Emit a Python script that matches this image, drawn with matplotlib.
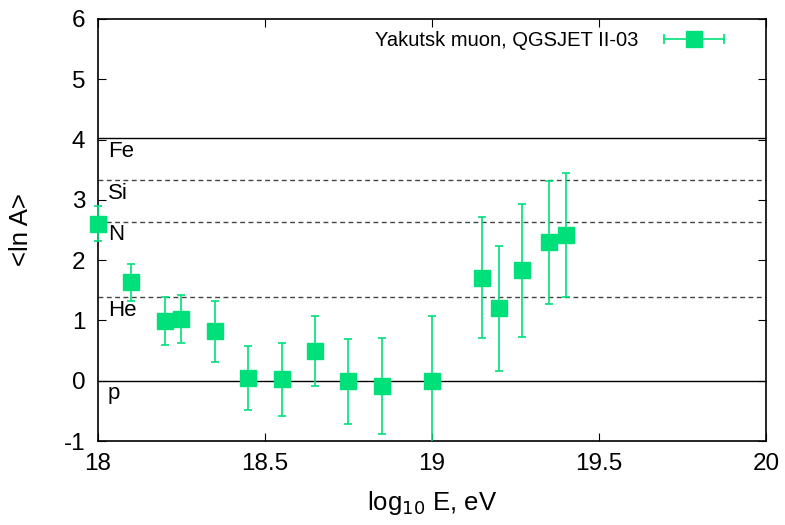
import numpy as np
import matplotlib
matplotlib.use('Agg')
from matplotlib import pyplot as plt
from matplotlib.lines import Line2D
from matplotlib.legend_handler import HandlerLine2D, HandlerTuple
from matplotlib.transforms import Bbox, TransformedBbox

plt.rcParams['font.family'] = ['Liberation Sans', 'DejaVu Sans']
plt.rcParams['axes.unicode_minus'] = False

# Yakutsk muon data, <ln A> vs energy
log_e = [18.0, 18.1, 18.2, 18.25, 18.35, 18.45, 18.55, 18.65, 18.75, 18.85,
         19.0, 19.15, 19.2, 19.27, 19.35, 19.4]
ln_a = [2.60, 1.63, 0.99, 1.02, 0.82, 0.04, 0.02, 0.50, -0.01, -0.09,
        -0.01, 1.71, 1.20, 1.83, 2.30, 2.41]
ln_a_err = [0.29, 0.30, 0.40, 0.40, 0.51, 0.53, 0.60, 0.58, 0.70, 0.79,
            1.08, 1.00, 1.04, 1.10, 1.02, 1.03]

# reference nuclei
nuclei = ['Fe', 'Si', 'N', 'He', 'p']
mass = [56, 28, 14, 4, 1]
solid = [True, False, False, False, True]

green = '#00e07a'

fig = plt.figure(figsize=(7.85, 5.25), dpi=100)
ax = fig.add_axes([0.1248, 0.16, 0.851, 0.804])

for name, a, s in zip(nuclei, mass, solid):
    lna = np.log(a)
    if s:
        ax.axhline(lna, color='black', lw=1.0, zorder=1)
    else:
        ax.axhline(lna, color='#444444', lw=1.0, ls=(0, (3.5, 2.5)), zorder=1)
    ax.text(18.03, lna - 0.22, name, fontsize=16, va='center', ha='left')

eb = ax.errorbar(log_e, ln_a, yerr=ln_a_err, fmt='s', color=green, ms=11,
                 elinewidth=1.2, capsize=3, capthick=1.2, zorder=3)
# let the point at x=18 stick out of the frame on the left, but cut bars at the bottom
clip = TransformedBbox(Bbox([[17.9, -1], [20, 6]]), ax.transData)
eb[0].set_clip_on(False)
for art in list(eb[1]) + list(eb[2]):
    art.set_clip_box(clip)

# legend key: horizontal bar with caps and a square
caps = Line2D([], [], color=green, lw=1.2, marker='|', ms=7, mew=1.2)
sq = Line2D([], [], color=green, marker='s', ms=11, ls='none')
ax.legend([(caps, sq)], ['Yakutsk muon, QGSJET II-03'],
          handler_map={caps: HandlerLine2D(numpoints=2), tuple: HandlerTuple(ndivide=1)},
          loc='upper right', frameon=False, markerfirst=False, fontsize=14.5,
          handlelength=3.6, handletextpad=1.0, bbox_to_anchor=(0.965, 1.0),
          borderaxespad=0.2)

ax.set_xlim(18, 20)
ax.set_ylim(-1, 6)
ax.set_xticks([18, 18.5, 19, 19.5, 20])
ax.set_xticklabels(['18', '18.5', '19', '19.5', '20'])
ax.set_yticks(range(-1, 7))
ax.tick_params(direction='in', top=True, right=True, length=6, labelsize=17.5, pad=9)
ax.set_xlabel('log$_{10}$ E, eV', fontsize=18.5, labelpad=10)
ax.set_ylabel('<ln A>', fontsize=18.5, labelpad=22)
for sp in ax.spines.values():
    sp.set_linewidth(1.2)

fig.savefig('out.png', dpi=100)
